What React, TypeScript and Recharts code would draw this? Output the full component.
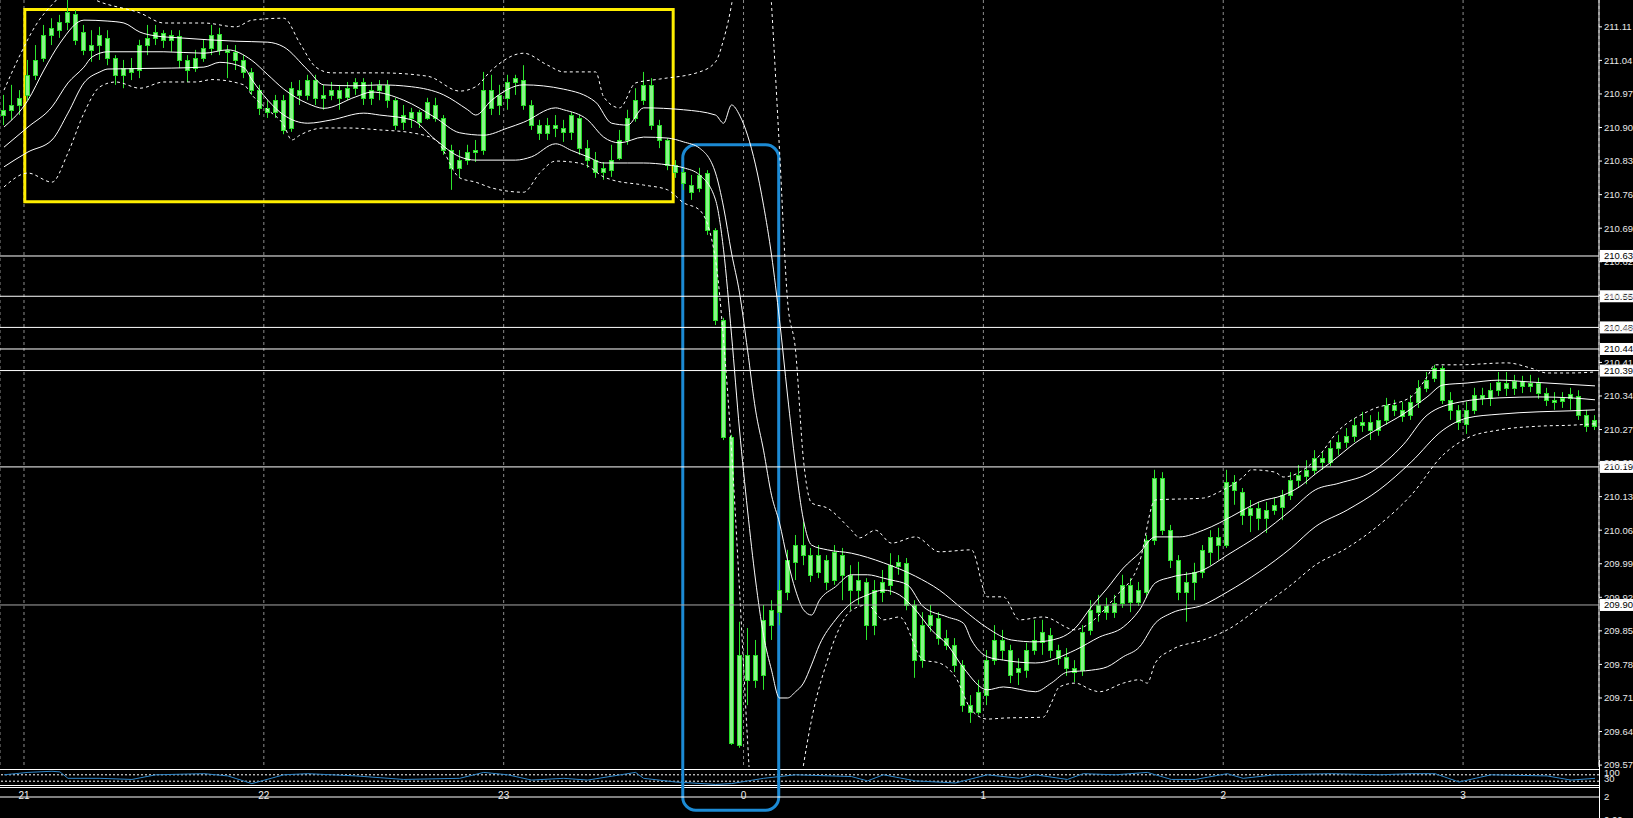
import {
  Bar,
  CartesianGrid,
  ComposedChart,
  Line,
  LineChart,
  ReferenceArea,
  ReferenceLine,
  XAxis,
  YAxis,
} from "recharts";

const W = 1633;
const H = 818;
const AXIS_W = 34;
const PLOT_W = W - AXIS_W;
const TIME_LABEL_Y = 795;
const FONT = "'Liberation Sans', Arial, sans-serif";

// M2 candles [open, high, low, close], grouped by hour
const hour20 = [
  [210.926, 210.968, 210.905, 210.937], [210.937, 210.989, 210.916, 210.947], [210.947, 210.978, 210.926, 210.962],
];
const hour21 = [
  [210.968, 211.041, 210.957, 211.010], [211.010, 211.072, 210.999, 211.041], [211.045, 211.114, 211.037, 211.093],
  [211.093, 211.128, 211.072, 211.108], [211.103, 211.135, 211.087, 211.120], [211.120, 211.166, 211.103, 211.141],
  [211.137, 211.145, 211.072, 211.083], [211.099, 211.114, 211.051, 211.062], [211.062, 211.103, 211.037, 211.072],
  [211.072, 211.110, 211.041, 211.093], [211.087, 211.103, 211.030, 211.045], [211.045, 211.051, 210.989, 211.010],
  [211.010, 211.041, 210.982, 211.024], [211.024, 211.045, 210.999, 211.016], [211.020, 211.083, 211.003, 211.072],
  [211.072, 211.114, 211.051, 211.087], [211.087, 211.114, 211.072, 211.099], [211.097, 211.103, 211.066, 211.083],
  [211.083, 211.103, 211.058, 211.093], [211.091, 211.103, 211.024, 211.041], [211.041, 211.051, 210.995, 211.020],
  [211.024, 211.062, 211.016, 211.045], [211.045, 211.083, 211.037, 211.066], [211.066, 211.114, 211.051, 211.093],
  [211.095, 211.108, 211.051, 211.062], [211.062, 211.072, 211.003, 211.058], [211.058, 211.072, 211.020, 211.041],
  [211.041, 211.051, 211.003, 211.016], [211.016, 211.024, 210.968, 210.978], [210.978, 210.989, 210.926, 210.941],
];
const hour22 = [
  [210.941, 210.957, 210.920, 210.932], [210.932, 210.968, 210.920, 210.957], [210.957, 210.968, 210.886, 210.895],
  [210.899, 210.995, 210.891, 210.982], [210.978, 210.999, 210.947, 210.968], [210.968, 211.010, 210.957, 210.999],
  [210.999, 211.010, 210.947, 210.962], [210.962, 210.989, 210.937, 210.968], [210.968, 210.995, 210.957, 210.978],
  [210.978, 210.989, 210.937, 210.962], [210.964, 210.995, 210.957, 210.982], [210.982, 211.003, 210.968, 210.995],
  [210.995, 211.003, 210.947, 210.962], [210.962, 210.995, 210.947, 210.978], [210.978, 210.999, 210.957, 210.989],
  [210.989, 210.999, 210.941, 210.957], [210.957, 210.962, 210.895, 210.905], [210.912, 210.947, 210.895, 210.926],
  [210.920, 210.941, 210.899, 210.932], [210.932, 210.937, 210.899, 210.912], [210.920, 210.962, 210.916, 210.953],
  [210.947, 210.962, 210.912, 210.920], [210.920, 210.926, 210.843, 210.853], [210.853, 210.864, 210.770, 210.816],
  [210.816, 210.853, 210.795, 210.832], [210.832, 210.864, 210.822, 210.849], [210.849, 210.874, 210.828, 210.853],
  [210.853, 211.016, 210.843, 210.978], [210.978, 211.010, 210.926, 210.941], [210.947, 210.989, 210.926, 210.968],
];
const hour23 = [
  [210.962, 211.010, 210.937, 210.995], [210.995, 211.010, 210.968, 211.003], [210.999, 211.030, 210.937, 210.947],
  [210.947, 210.957, 210.895, 210.905], [210.905, 210.916, 210.874, 210.889], [210.889, 210.920, 210.874, 210.905],
  [210.905, 210.926, 210.880, 210.899], [210.899, 210.916, 210.870, 210.891], [210.891, 210.932, 210.874, 210.926],
  [210.920, 210.926, 210.843, 210.857], [210.857, 210.874, 210.816, 210.832], [210.832, 210.849, 210.795, 210.807],
  [210.807, 210.828, 210.791, 210.816], [210.811, 210.864, 210.797, 210.832], [210.836, 210.895, 210.832, 210.874],
  [210.874, 210.937, 210.864, 210.920], [210.920, 210.982, 210.912, 210.957], [210.957, 211.016, 210.947, 210.989],
  [210.989, 211.003, 210.895, 210.905], [210.905, 210.916, 210.857, 210.874], [210.874, 210.878, 210.811, 210.822],
  [210.822, 210.832, 210.795, 210.807], [210.807, 210.816, 210.770, 210.784], [210.780, 210.801, 210.749, 210.765],
  [210.774, 210.816, 210.765, 210.801], [210.805, 210.811, 210.676, 210.686], [210.686, 210.690, 210.488, 210.498],
  [210.498, 210.503, 210.248, 210.254], [210.254, 210.259, 209.612, 209.616], [209.612, 209.869, 209.606, 209.800],
];
const hour0 = [
  [209.800, 209.856, 209.695, 209.748], [209.748, 209.831, 209.731, 209.800], [209.758, 209.904, 209.727, 209.873],
  [209.862, 209.914, 209.831, 209.893], [209.889, 209.956, 209.862, 209.935], [209.931, 210.019, 209.914, 209.998],
  [209.994, 210.050, 209.956, 210.029], [210.029, 210.077, 209.987, 210.008], [210.008, 210.023, 209.952, 209.967],
  [209.973, 210.029, 209.960, 210.008], [209.998, 210.008, 209.935, 209.952], [209.956, 210.029, 209.946, 210.015],
  [210.008, 210.023, 209.914, 209.967], [209.967, 209.987, 209.893, 209.935], [209.935, 209.994, 209.904, 209.956],
  [209.952, 209.960, 209.831, 209.862], [209.862, 209.956, 209.841, 209.935], [209.931, 209.977, 209.910, 209.952],
  [209.946, 210.012, 209.925, 209.987], [209.985, 210.008, 209.967, 209.994], [209.992, 210.002, 209.893, 209.904],
  [209.904, 209.914, 209.752, 209.789], [209.789, 209.889, 209.773, 209.862], [209.862, 209.904, 209.848, 209.883],
  [209.877, 209.889, 209.821, 209.835], [209.835, 209.852, 209.810, 209.821], [209.821, 209.835, 209.764, 209.779],
  [209.779, 209.789, 209.681, 209.695], [209.695, 209.716, 209.658, 209.681], [209.681, 209.748, 209.675, 209.723],
];
const hour1 = [
  [209.716, 209.810, 209.695, 209.789], [209.789, 209.862, 209.779, 209.831], [209.831, 209.852, 209.789, 209.810],
  [209.810, 209.821, 209.741, 209.758], [209.764, 209.793, 209.737, 209.773], [209.768, 209.825, 209.752, 209.810],
  [209.810, 209.873, 209.800, 209.831], [209.827, 209.873, 209.800, 209.848], [209.841, 209.856, 209.793, 209.810],
  [209.810, 209.821, 209.779, 209.793], [209.796, 209.814, 209.756, 209.773], [209.773, 209.789, 209.743, 209.764],
  [209.768, 209.862, 209.756, 209.848], [209.852, 209.914, 209.841, 209.893], [209.889, 209.925, 209.869, 209.904],
  [209.902, 209.919, 209.873, 209.889], [209.889, 209.925, 209.877, 209.908], [209.908, 209.967, 209.898, 209.946],
  [209.946, 209.960, 209.889, 209.910], [209.910, 209.952, 209.902, 209.935], [209.931, 210.050, 209.919, 210.040],
  [210.040, 210.186, 210.029, 210.169], [210.169, 210.181, 210.050, 210.060], [210.060, 210.071, 209.981, 209.998],
  [209.998, 210.008, 209.914, 209.931], [209.931, 209.973, 209.869, 209.952], [209.952, 209.992, 209.914, 209.973],
  [209.973, 210.029, 209.960, 210.019], [210.015, 210.060, 209.987, 210.046], [210.046, 210.065, 209.998, 210.029],
];
const hour2 = [
  [210.029, 210.186, 210.023, 210.161], [210.161, 210.175, 210.113, 210.144], [210.140, 210.148, 210.071, 210.092],
  [210.092, 210.123, 210.056, 210.106], [210.106, 210.119, 210.060, 210.085], [210.085, 210.119, 210.054, 210.102],
  [210.102, 210.127, 210.092, 210.113], [210.108, 210.144, 210.081, 210.133], [210.133, 210.181, 210.123, 210.165],
  [210.165, 210.196, 210.148, 210.175], [210.173, 210.206, 210.156, 210.186], [210.186, 210.227, 210.175, 210.211],
  [210.211, 210.223, 210.186, 210.202], [210.202, 210.248, 210.194, 210.231], [210.231, 210.259, 210.217, 210.244],
  [210.244, 210.273, 210.231, 210.257], [210.257, 210.294, 210.244, 210.280], [210.280, 210.307, 210.265, 210.286],
  [210.286, 210.300, 210.248, 210.269], [210.269, 210.307, 210.257, 210.290], [210.290, 210.336, 210.280, 210.321],
  [210.321, 210.332, 210.298, 210.311], [210.311, 210.328, 210.286, 210.298], [210.300, 210.342, 210.290, 210.328],
  [210.328, 210.373, 210.315, 210.357], [210.357, 210.390, 210.348, 210.373], [210.378, 210.405, 210.369, 210.398],
  [210.398, 210.403, 210.323, 210.332], [210.332, 210.348, 210.290, 210.311], [210.311, 210.321, 210.269, 210.286],
];
const hour3 = [
  [210.282, 210.328, 210.261, 210.311], [210.311, 210.357, 210.302, 210.342], [210.342, 210.357, 210.321, 210.336],
  [210.336, 210.367, 210.319, 210.352], [210.352, 210.390, 210.340, 210.369], [210.367, 210.390, 210.340, 210.357],
  [210.357, 210.384, 210.342, 210.371], [210.371, 210.382, 210.346, 210.361], [210.361, 210.384, 210.348, 210.367],
  [210.367, 210.378, 210.334, 210.346], [210.346, 210.357, 210.319, 210.332], [210.332, 210.348, 210.311, 210.328],
  [210.330, 210.348, 210.315, 210.336], [210.336, 210.357, 210.311, 210.344], [210.340, 210.352, 210.290, 210.300],
  [210.300, 210.311, 210.265, 210.277], [210.277, 210.300, 210.269, 210.290],
];

// band lines, [bar index, price]
const upperOuter = [
  [0, 210.978], [2, 211.051], [4, 211.114], [6, 211.156], [8, 211.183], [10, 211.176], [12, 211.162], [17, 211.139],
  [20, 211.118], [25, 211.118], [29, 211.110], [31, 211.124], [35, 211.128], [37, 211.076], [39, 211.026], [41, 211.014],
  [47, 211.014], [53, 211.007], [57, 210.976], [59, 210.985], [61, 211.020], [65, 211.055], [68, 211.030], [70, 211.016],
  [74, 211.016], [75, 210.964], [77, 210.941], [79, 210.993], [82, 211.001], [87, 211.016], [89, 211.037], [90, 211.083],
  [91, 211.156], [93, 211.416], [95, 211.395], [96, 211.156], [97, 210.853], [98, 210.540], [99, 210.436], [100, 210.206],
  [101, 210.117], [103, 210.106], [106, 210.060], [107, 210.044], [109, 210.060], [111, 210.033], [114, 210.046],
  [117, 210.015], [121, 210.019], [123, 209.921], [125, 209.921], [127, 209.873], [130, 209.879], [134, 209.852],
  [135, 209.858], [139, 209.921], [142, 209.992], [144, 210.123], [150, 210.127], [152, 210.140], [155, 210.171],
  [156, 210.186], [159, 210.181], [160, 210.171], [164, 210.206], [167, 210.269], [171, 210.311], [176, 210.338],
  [178, 210.380], [179, 210.405], [182, 210.405], [188, 210.409], [191, 210.398], [193, 210.388], [196, 210.388],
  [199, 210.390],
];
const upperInner = [
  [0, 210.901], [3, 210.957], [5, 211.020], [7, 211.076], [10, 211.124], [13, 211.122], [15, 211.118], [17, 211.099],
  [19, 211.091], [22, 211.087], [29, 211.080], [33, 211.078], [35, 211.068], [38, 211.020], [40, 210.989], [44, 210.987],
  [47, 210.989], [51, 210.985], [55, 210.968], [58, 210.937], [59, 210.926], [61, 210.957], [65, 210.989], [70, 210.980],
  [74, 210.953], [76, 210.909], [78, 210.905], [80, 210.941], [85, 210.937], [89, 210.926], [90, 210.909], [91, 210.947],
  [92, 210.926], [93, 210.884], [94, 210.822], [95, 210.738], [96, 210.634], [97, 210.499], [98, 210.342], [99, 210.196],
  [100, 210.081], [101, 210.029], [103, 210.019], [106, 210.012], [110, 209.992], [114, 209.964], [117, 209.935],
  [120, 209.894], [123, 209.856], [126, 209.831], [129, 209.827], [132, 209.835], [134, 209.856], [136, 209.900],
  [138, 209.939], [140, 209.981], [142, 210.012], [144, 210.046], [147, 210.046], [150, 210.060], [152, 210.075],
  [155, 210.102], [157, 210.119], [160, 210.133], [162, 210.150], [164, 210.177], [166, 210.202], [169, 210.242],
  [172, 210.273], [175, 210.302], [178, 210.338], [180, 210.363], [183, 210.367], [187, 210.373], [191, 210.369],
  [195, 210.365], [199, 210.361],
];
const middle = [
  [0, 210.859], [3, 210.901], [6, 210.943], [8, 210.993], [10, 211.026], [11, 211.047], [13, 211.058], [20, 211.058],
  [25, 211.055], [28, 211.062], [31, 211.040], [33, 211.010], [35, 210.980], [38, 210.950], [40, 210.940], [44, 210.964],
  [46, 210.974], [50, 210.957], [54, 210.920], [57, 210.889], [60, 210.884], [63, 210.899], [65, 210.911], [69, 210.941],
  [70, 210.937], [73, 210.916], [75, 210.880], [77, 210.868], [80, 210.880], [83, 210.878], [85, 210.870], [87, 210.857],
  [89, 210.805], [90, 210.734], [91, 210.638], [92, 210.555], [93, 210.436], [94, 210.311], [95, 210.227], [96, 210.133],
  [97, 210.075], [98, 209.998], [99, 209.935], [100, 209.894], [101, 209.883], [102, 209.914], [104, 209.942],
  [106, 209.967], [108, 209.967], [110, 209.960], [111, 209.956], [113, 209.946], [115, 209.900], [118, 209.879],
  [120, 209.866], [121, 209.831], [123, 209.796], [125, 209.789], [129, 209.783], [134, 209.810], [137, 209.837],
  [140, 209.858], [142, 209.893], [144, 209.950], [146, 209.962], [150, 209.977], [153, 210.008], [157, 210.050],
  [161, 210.102], [164, 210.144], [167, 210.158], [171, 210.181], [175, 210.238], [178, 210.300], [182, 210.327],
  [187, 210.336], [192, 210.338], [196, 210.336], [199, 210.332],
];
const lowerInner = [
  [0, 210.818], [3, 210.849], [6, 210.874], [8, 210.930], [10, 210.993], [12, 211.016], [13, 211.022], [21, 211.024],
  [25, 211.026], [27, 211.036], [30, 211.025], [31, 211.000], [33, 210.957], [35, 210.926], [38, 210.909], [41, 210.916],
  [45, 210.930], [47, 210.926], [51, 210.916], [54, 210.874], [57, 210.839], [59, 210.832], [64, 210.832], [66, 210.839],
  [69, 210.866], [71, 210.852], [73, 210.839], [75, 210.826], [78, 210.826], [80, 210.826], [83, 210.822], [85, 210.816],
  [87, 210.801], [89, 210.749], [90, 210.645], [91, 210.467], [92, 210.269], [93, 210.102], [94, 209.956], [95, 209.841],
  [96, 209.768], [97, 209.710], [98, 209.710], [99, 209.723], [100, 209.741], [101, 209.779], [102, 209.821],
  [104, 209.873], [106, 209.908], [108, 209.925], [110, 209.935], [112, 209.925], [114, 209.894], [116, 209.852],
  [118, 209.821], [120, 209.773], [123, 209.727], [125, 209.733], [129, 209.723], [131, 209.741], [133, 209.764],
  [136, 209.768], [138, 209.775], [140, 209.796], [142, 209.816], [144, 209.866], [146, 209.887], [150, 209.904],
  [153, 209.931], [157, 209.973], [161, 210.023], [164, 210.067], [168, 210.102], [172, 210.144], [176, 210.202],
  [180, 210.269], [183, 210.294], [187, 210.302], [192, 210.307], [196, 210.309], [199, 210.311],
];
const lowerOuter = [
  [0, 210.776], [3, 210.805], [6, 210.786], [8, 210.847], [10, 210.930], [12, 210.985], [14, 210.995], [17, 210.982],
  [20, 210.995], [24, 210.995], [26, 211.000], [30, 210.989], [31, 210.968], [33, 210.937], [35, 210.905], [36, 210.874],
  [37, 210.884], [40, 210.899], [43, 210.899], [47, 210.895], [51, 210.889], [54, 210.874], [57, 210.795], [59, 210.786],
  [61, 210.774], [65, 210.765], [67, 210.805], [69, 210.830], [71, 210.828], [73, 210.820], [75, 210.797], [76, 210.791],
  [80, 210.780], [83, 210.770], [85, 210.743], [87, 210.728], [89, 210.624], [90, 210.457], [91, 210.227], [92, 209.935],
  [93, 209.622], [94, 209.351], [96, 209.163], [98, 209.289], [99, 209.456], [100, 209.570], [101, 209.664],
  [103, 209.789], [104, 209.837], [106, 209.893], [108, 209.904], [110, 209.873], [112, 209.879], [115, 209.789],
  [117, 209.783], [119, 209.754], [121, 209.685], [123, 209.666], [125, 209.668], [130, 209.670], [131, 209.700],
  [132, 209.733], [134, 209.741], [136, 209.727], [137, 209.723], [140, 209.741], [142, 209.748], [143, 209.741],
  [144, 209.783], [146, 209.810], [150, 209.831], [153, 209.852], [157, 209.898], [161, 209.946], [164, 209.987],
  [168, 210.023], [172, 210.071], [176, 210.133], [180, 210.217], [183, 210.252], [187, 210.269], [192, 210.277],
  [196, 210.279], [199, 210.282],
];

// oscillator sub-window, [bar index, value]
const oscillator = [
  [0, 70], [3, 85], [6, 92], [7, 88], [8, 48], [12, 48], [16, 41], [19, 70], [25, 77], [28, 63], [31, 15], [35, 70],
  [38, 77], [44, 63], [50, 41], [57, 48], [60, 85], [63, 70], [66, 37], [70, 48], [73, 37], [79, 85], [80, 48], [84, 25],
  [89, 10], [91, 15], [95, 48], [99, 70], [106, 59], [108, 32], [110, 70], [114, 32], [119, 19], [123, 70], [127, 48],
  [129, 70], [133, 41], [135, 77], [139, 70], [143, 85], [146, 41], [149, 41], [153, 77], [155, 48], [159, 70],
  [166, 77], [172, 70], [176, 77], [179, 77], [182, 25], [186, 70], [193, 63], [196, 37], [199, 48],
];
const oscLevels = [70, 30];

const priceTicks = [
  211.11, 211.04, 210.97, 210.9, 210.83, 210.76, 210.69, 210.62, 210.55, 210.48, 210.41, 210.34,
  210.27, 210.2, 210.13, 210.06, 209.99, 209.92, 209.85, 209.78, 209.71, 209.64, 209.57,
];
const priceDomain = [209.566, 211.166];
const levelPrices = [210.632, 210.548, 210.483, 210.438, 210.393, 210.192, 209.904];
const levelColors = ["#ffffff", "#ffffff", "#ffffff", "#ffffff", "#ffffff", "#ffffff", "#a8a8a8"];

const hourTicks = [2.5, 32.5, 62.5, 92.5, 122.5, 152.5, 182.5];
const hourLabels = ["21", "22", "23", "0", "1", "2", "3"];

// annotation boxes (bar index / price)
const yellowBox = { k1: 2.6, k2: 83.7, p1: 211.146, p2: 210.745 };
const blueBox = { k1: 84.9, k2: 96.9, p1: 210.864, p2: 209.476 };

const candles = [...hour20, ...hour21, ...hour22, ...hour23, ...hour0, ...hour1, ...hour2, ...hour3].map(
  ([o, h, l, c], k) => ({ k, o, h, l, c })
);
const toRows = (pairs: number[][]) => pairs.map(([k, v]) => ({ k, v }));
const bands = [
  { name: "upperOuter", rows: toRows(upperOuter), dash: "3 3" },
  { name: "upperInner", rows: toRows(upperInner), dash: undefined },
  { name: "middle", rows: toRows(middle), dash: undefined },
  { name: "lowerInner", rows: toRows(lowerInner), dash: undefined },
  { name: "lowerOuter", rows: toRows(lowerOuter), dash: "3 3" },
];
const oscRows = toRows(oscillator);

function Candle(props: any) {
  const { x, y, width, height, payload } = props;
  if (!payload || height == null || isNaN(y)) return null;
  const { o, h, l, c } = payload;
  const span = h - l || 1;
  const py = (v: number) => y + ((h - v) / span) * height;
  const left = Math.round(x) + 0.5;
  const bw = Math.max(width - 1, 2);
  const mid = left + bw / 2;
  const top = Math.round(py(Math.max(o, c))) + 0.5;
  const bot = Math.round(py(Math.min(o, c))) + 0.5;
  return (
    <g>
      <line x1={mid} x2={mid} y1={y} y2={y + height} stroke="#2de62d" strokeWidth={1} />
      <rect x={left} y={top} width={bw} height={Math.max(bot - top, 1)} fill="#8af28a" stroke="#25e025" strokeWidth={1} />
    </g>
  );
}

function HourTick(props: any) {
  const { x, payload, index } = props;
  const i = typeof index === "number" ? index : hourTicks.indexOf(payload?.value);
  return (
    <text x={x} y={TIME_LABEL_Y} textAnchor="middle" dominantBaseline="central" fontSize={10} fill="#f0f0f0" fontFamily={FONT}>
      {hourLabels[i] ?? ""}
    </text>
  );
}

function LevelTag(props: any) {
  const { viewBox, text } = props;
  if (!viewBox) return null;
  const x = viewBox.x + viewBox.width + 1;
  const y = viewBox.y;
  return (
    <g>
      <rect x={x} y={y - 6} width={AXIS_W} height={12} fill="#ffffff" />
      <text x={x + 4} y={y + 3.5} fontSize={9.5} fill="#000000" fontFamily={FONT}>
        {text}
      </text>
    </g>
  );
}

function RoundBox(props: any) {
  const { x, y, width, height } = props;
  return <rect x={x} y={y} width={width} height={height} rx={13} ry={13} fill="none" stroke="#1c8ad4" strokeWidth={3} />;
}

export default function App() {
  return (
    <div style={{ position: "absolute", left: 0, top: 0, width: W, height: H, background: "#000", overflow: "hidden" }}>
      <svg width={W} height={H} style={{ position: "absolute", left: 0, top: 0 }}>
        <line x1={0} x2={PLOT_W} y1={769.5} y2={769.5} stroke="#ffffff" />
        <line x1={0} x2={PLOT_W} y1={785.5} y2={785.5} stroke="#ffffff" />
        <line x1={0} x2={PLOT_W} y1={787.5} y2={787.5} stroke="#ffffff" />
        <line x1={PLOT_W + 0.5} x2={PLOT_W + 0.5} y1={760} y2={H} stroke="#ffffff" />
        <g fontFamily={FONT} fontSize={9.5} fill="#e8e8e8">
          <text x={1604} y={776}>100</text>
          <text x={1604} y={782}>30</text>
          <text x={1604} y={800}>2</text>
          <text x={1604} y={823}>0.00</text>
        </g>
      </svg>

      <div style={{ position: "absolute", left: 0, top: 770 }}>
        <LineChart width={W} height={16} data={oscRows} margin={{ top: 0, right: 0, bottom: 0, left: 0 }}>
          <XAxis type="number" dataKey="k" domain={[-0.5, 199.5]} allowDataOverflow hide />
          <YAxis
            type="number"
            domain={[0, 100]}
            allowDataOverflow
            orientation="right"
            width={AXIS_W}
            tick={false}
            tickLine={false}
            axisLine={false}
          />
          {oscLevels.map((v) => (
            <ReferenceLine key={v} y={v} stroke="#ffffff" strokeDasharray="2 2" />
          ))}
          <Line
            type="linear"
            dataKey="v"
            stroke="#2f86c8"
            strokeWidth={1}
            dot={false}
            activeDot={false}
            legendType="none"
            isAnimationActive={false}
          />
        </LineChart>
      </div>

      <div style={{ position: "absolute", left: 0, top: 0 }}>
        <ComposedChart width={W} height={H} data={candles} margin={{ top: 0, right: 0, bottom: 0, left: 0 }}>
          <XAxis xAxisId="c" dataKey="k" type="category" hide />
          <XAxis
            xAxisId="t"
            dataKey="k"
            type="number"
            domain={[-0.5, 199.5]}
            allowDataOverflow
            ticks={hourTicks}
            interval={0}
            height={51}
            tickSize={0}
            tick={<HourTick />}
            axisLine={{ stroke: "#ffffff" }}
            tickLine={false}
          />
          <YAxis
            yAxisId="p"
            type="number"
            orientation="right"
            width={AXIS_W}
            domain={priceDomain}
            allowDataOverflow
            ticks={priceTicks}
            interval={0}
            tickFormatter={(v: number) => v.toFixed(2)}
            tick={{ fill: "#e8e8e8", fontSize: 9.5, fontFamily: FONT }}
            tickSize={3}
            tickMargin={2}
            tickLine={{ stroke: "#ffffff" }}
            axisLine={{ stroke: "#ffffff" }}
          />
          <CartesianGrid xAxisId="t" yAxisId="p" horizontal={false} stroke="#8c8c8c" strokeDasharray="3 3" />

          <Bar
            xAxisId="c"
            yAxisId="p"
            dataKey={(d: any) => [d.l, d.h]}
            barSize={5}
            shape={<Candle />}
            activeBar={false}
            legendType="none"
            isAnimationActive={false}
          />

          {bands.map((b) => (
            <Line
              key={b.name}
              xAxisId="t"
              yAxisId="p"
              data={b.rows}
              dataKey="v"
              type="monotone"
              stroke="#ffffff"
              strokeWidth={1}
              strokeDasharray={b.dash}
              dot={false}
              activeDot={false}
              legendType="none"
              isAnimationActive={false}
            />
          ))}

          {levelPrices.map((p, i) => (
            <ReferenceLine
              key={p}
              xAxisId="t"
              yAxisId="p"
              y={p}
              stroke={levelColors[i]}
              strokeWidth={1}
              label={<LevelTag text={p.toFixed(2)} />}
            />
          ))}

          <ReferenceArea
            xAxisId="t"
            yAxisId="p"
            x1={yellowBox.k1}
            x2={yellowBox.k2}
            y1={yellowBox.p1}
            y2={yellowBox.p2}
            fill="none"
            fillOpacity={0}
            stroke="#ffee00"
            strokeWidth={3}
            ifOverflow="visible"
          />
          <ReferenceArea
            xAxisId="t"
            yAxisId="p"
            x1={blueBox.k1}
            x2={blueBox.k2}
            y1={blueBox.p1}
            y2={blueBox.p2}
            ifOverflow="visible"
            shape={<RoundBox />}
          />
        </ComposedChart>
      </div>
    </div>
  );
}
